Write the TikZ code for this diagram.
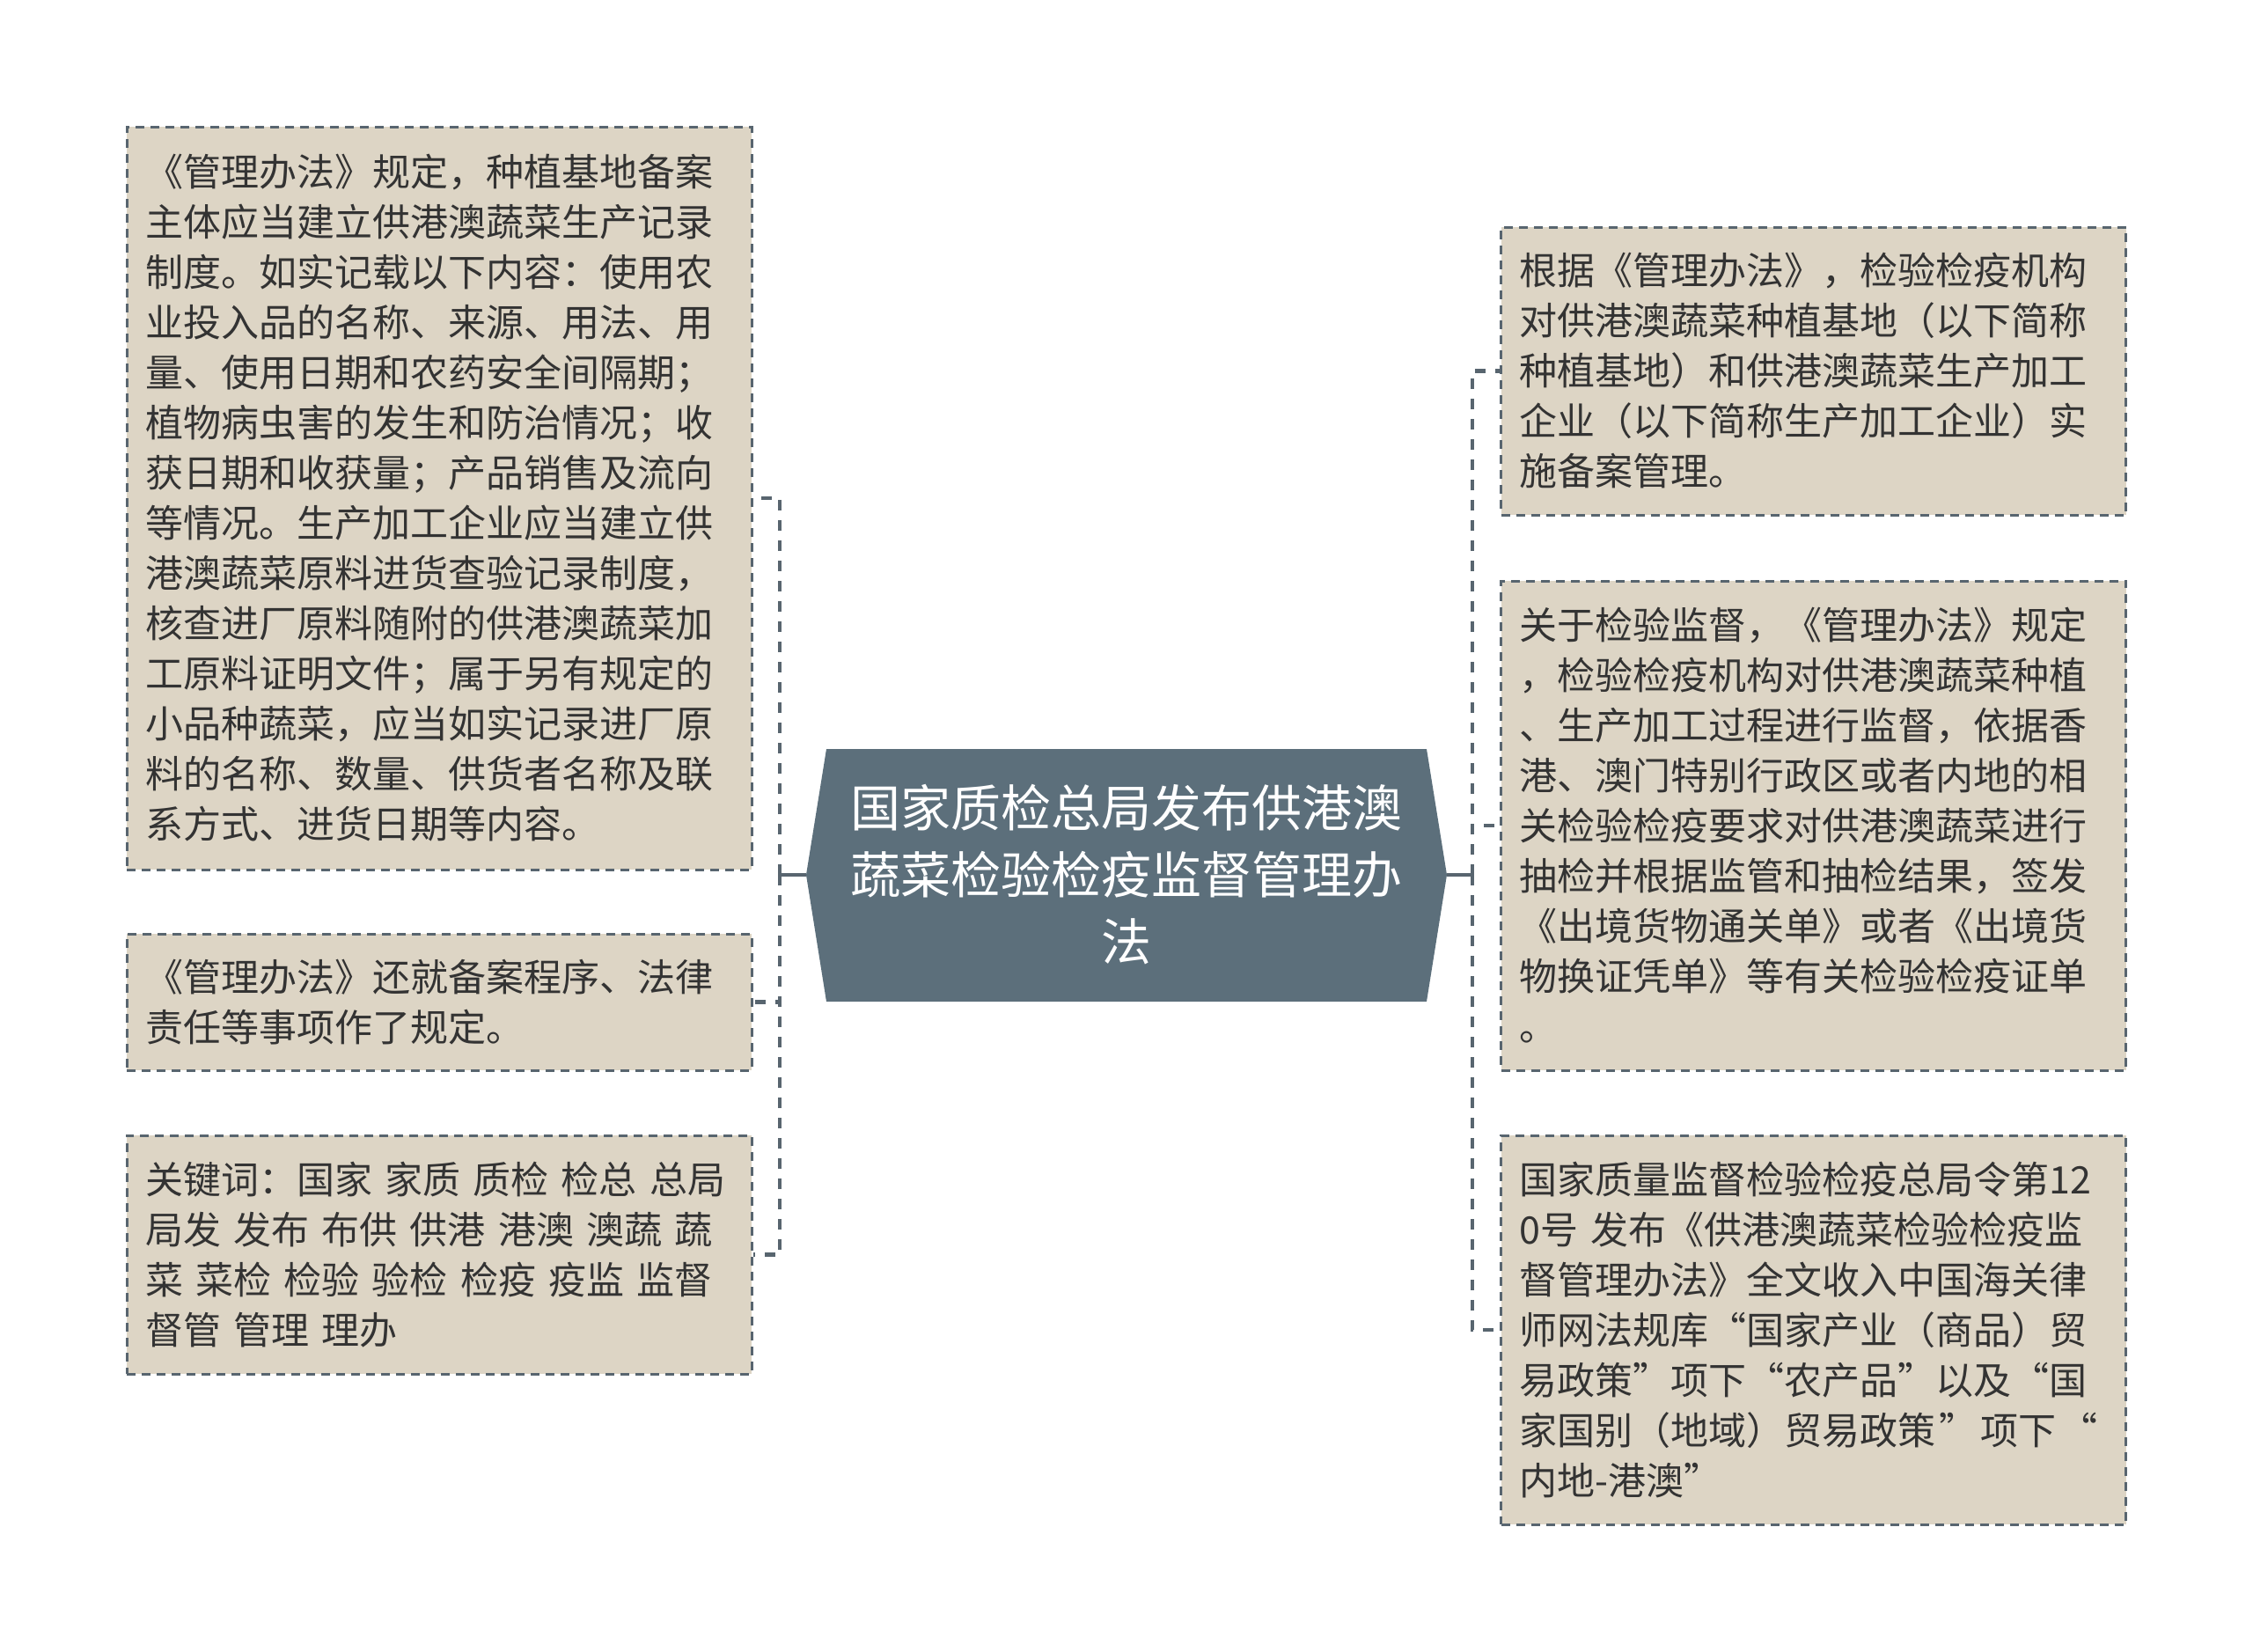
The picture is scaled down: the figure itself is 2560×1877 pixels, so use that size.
\documentclass[tikz,border=0pt]{standalone}
\usepackage{fontspec}
\setmainfont{Noto Sans CJK SC}
\definecolor{linec}{RGB}{88,101,111}
\definecolor{boxfill}{RGB}{221,213,197}
\definecolor{textc}{RGB}{51,51,51}
\definecolor{centerfill}{RGB}{92,111,123}
\newcommand\cjkph{\vphantom{国}}
\begin{document}
\begin{tikzpicture}[x=1pt,y=-1pt,
  box/.style={draw=linec, line width=3pt, dash pattern=on 10pt off 7pt,
    fill=boxfill, text=textc, text width=668pt, inner xsep=21pt, inner ysep=0pt,
    align=left, font=\fontsize{43}{57}\selectfont},
  conn/.style={draw=linec, line width=4.5pt, dash pattern=on 12pt off 11pt},
  connsolid/.style={draw=linec, line width=4.5pt},
  centertext/.style={text=white, align=center, font=\fontsize{57}{76}\selectfont, inner sep=0pt}]
\useasboundingbox (0,0) rectangle (2560,1877);

% centre
\coordinate (cl) at (916,994);
\coordinate (cr) at (1644,994);
\coordinate (jl) at (886,994);
\coordinate (jr) at (1673,994);
\fill[centerfill] (939,851) -- (1621,851) -- (cr) -- (1621,1138) -- (939,1138) -- (cl) -- cycle;
\node[centertext] (c) at (1280,994) {国家质检总局发布供港澳\\蔬菜检验检疫监督管理办\\法};

% left boxes
\node[box, minimum height=844pt] (l1) at (499,566) {《管理办法》规定，种植基地备案\\
主体应当建立供港澳蔬菜生产记录\\
制度。如实记载以下内容：使用农\\
业投入品的名称、来源、用法、用\\
量、使用日期和农药安全间隔期；\\
植物病虫害的发生和防治情况；收\\
获日期和收获量；产品销售及流向\\
等情况。生产加工企业应当建立供\\
港澳蔬菜原料进货查验记录制度，\\
核查进厂原料随附的供港澳蔬菜加\\
工原料证明文件；属于另有规定的\\
小品种蔬菜，应当如实记录进厂原\\
料的名称、数量、供货者名称及联\\
系方式、进货日期等内容。};

\node[box, minimum height=155pt] (l2) at (499,1138.5) {《管理办法》还就备案程序、法律\\
责任等事项作了规定。};

\node[box, minimum height=271pt] (l3) at (499,1425.5) {关键词：国家 家质 质检 检总 总局\\
局发 发布 布供 供港 港澳 澳蔬 蔬\\
菜 菜检 检验 验检 检疫 疫监 监督\\
督管 管理 理办};

% right boxes
\node[box, minimum height=327pt] (r1) at (2060.5,421.5) {根据《管理办法》，检验检疫机构\\
对供港澳蔬菜种植基地（以下简称\\
种植基地）和供港澳蔬菜生产加工\\
企业（以下简称生产加工企业）实\\
施备案管理。};

\node[box, minimum height=556pt] (r2) at (2060.5,938) {关于检验监督，《管理办法》规定\\
，检验检疫机构对供港澳蔬菜种植\\
、生产加工过程进行监督，依据香\\
港、澳门特别行政区或者内地的相\\
关检验检疫要求对供港澳蔬菜进行\\
抽检并根据监管和抽检结果，签发\\
《出境货物通关单》或者《出境货\\
物换证凭单》等有关检验检疫证单\\
\cjkph。};

\node[box, minimum height=442pt] (r3) at (2060.5,1511) {国家质量监督检验检疫总局令第12\\
0号 发布《供港澳蔬菜检验检疫监\\
督管理办法》全文收入中国海关律\\
师网法规库“国家产业（商品）贸\\
易政策”项下“农产品”以及“国\\
\mbox{家国别（地域）贸易政策\kern4pt”\kern4pt项下\kern4pt“}\\
内地-港澳”};

% connectors
\draw[connsolid] (cl) -- (jl);
\draw[conn] (jl) |- (l1.east);
\draw[conn] (jl) |- (l2.east);
\draw[conn] (jl) |- (l3.east);
\draw[connsolid] (cr) -- (jr);
\draw[conn] (jr) |- (r1.west);
\draw[conn] (jr) |- (r2.west);
\draw[conn] (jr) |- (r3.west);
\end{tikzpicture}
\end{document}
